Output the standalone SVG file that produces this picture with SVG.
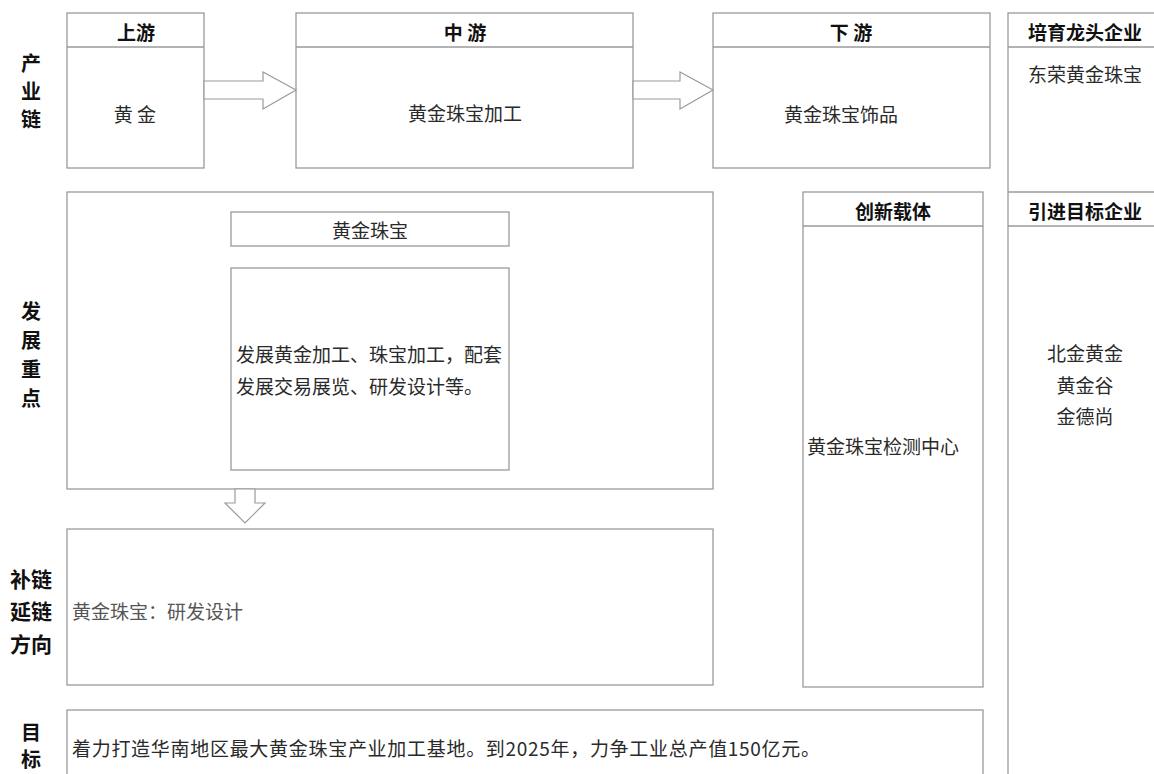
<svg xmlns="http://www.w3.org/2000/svg" width="1154" height="774" viewBox="0 0 1154 774">
<style>
.box{fill:#fff;stroke:#9a9a9a;stroke-width:1.3}
.ln{stroke:#9a9a9a;stroke-width:1.3;fill:none}
.arr{fill:#fff;stroke:#9a9a9a;stroke-width:1.2}
text{font-family:"Noto Sans CJK SC","Noto Sans",sans-serif;dominant-baseline:central;fill:#2a2a2a}
.lab{font-size:20px;font-weight:bold;text-anchor:middle;fill:#111}
.lab2{font-size:21px}
.hd{font-size:19px;font-weight:bold;text-anchor:middle;fill:#111}
.tx{font-size:19px}
.mid{text-anchor:middle}
.lt{fill:#555}
</style>
<rect width="1154" height="774" fill="#fff"/>
<g id="labels">
<text class="lab" x="31" y="62">产</text>
<text class="lab" x="31" y="90">业</text>
<text class="lab" x="31" y="118">链</text>
<text class="lab" x="31" y="310">发</text>
<text class="lab" x="31" y="339">展</text>
<text class="lab" x="31" y="368">重</text>
<text class="lab" x="31" y="397">点</text>
<text class="lab lab2" x="31" y="578">补链</text>
<text class="lab lab2" x="31" y="610">延链</text>
<text class="lab lab2" x="31" y="643">方向</text>
<text class="lab" x="31" y="731">目</text>
<text class="lab" x="31" y="758">标</text>
</g>
<g id="upstream">
<rect class="box" x="67" y="13" width="137" height="155"/>
<line class="ln" x1="67" y1="47" x2="204" y2="47"/>
<text class="hd" x="136" y="31">上游</text>
<text class="tx mid" x="135" y="113">黄 金</text>
</g>
<g id="midstream">
<rect class="box" x="296" y="13" width="337" height="155"/>
<line class="ln" x1="296" y1="47" x2="633" y2="47"/>
<text class="hd" x="465" y="31">中 游</text>
<text class="tx mid" x="465" y="112">黄金珠宝加工</text>
</g>
<g id="downstream">
<rect class="box" x="713" y="13" width="277" height="155"/>
<line class="ln" x1="713" y1="47" x2="990" y2="47"/>
<text class="hd" x="851" y="31">下 游</text>
<text class="tx mid" x="841" y="113">黄金珠宝饰品</text>
</g>
<g id="enterprises">
<rect class="box" x="1008" y="13" width="160" height="780"/>
<line class="ln" x1="1008" y1="47" x2="1154" y2="47"/>
<line class="ln" x1="1008" y1="192" x2="1154" y2="192"/>
<line class="ln" x1="1008" y1="226" x2="1154" y2="226"/>
<text class="hd" x="1085" y="31">培育龙头企业</text>
<text class="tx mid" x="1085" y="73">东荣黄金珠宝</text>
<text class="hd" x="1085" y="210">引进目标企业</text>
<text class="tx mid" x="1085" y="352">北金黄金</text>
<text class="tx mid" x="1085" y="384">黄金谷</text>
<text class="tx mid" x="1085" y="415">金德尚</text>
</g>
<g id="focus">
<rect class="box" x="67" y="192" width="646" height="297"/>
<rect class="box" x="231" y="212" width="278" height="34"/>
<text class="tx mid" x="370" y="229">黄金珠宝</text>
<rect class="box" x="231" y="268" width="278" height="202"/>
<text class="tx" x="236" y="353">发展黄金加工、珠宝加工，配套</text>
<text class="tx" x="236" y="385">发展交易展览、研发设计等。</text>
</g>
<g id="innovation">
<rect class="box" x="803" y="192" width="180" height="495"/>
<line class="ln" x1="803" y1="226" x2="983" y2="226"/>
<text class="hd" x="893" y="210">创新载体</text>
<text class="tx" x="807" y="445">黄金珠宝检测中心</text>
</g>
<g id="supplement">
<rect class="box" x="67" y="529" width="646" height="156"/>
<text class="tx lt" x="72" y="610">黄金珠宝：研发设计</text>
</g>
<g id="target">
<rect class="box" x="67" y="710" width="916" height="90"/>
<text class="tx" x="72" y="747" textLength="748" lengthAdjust="spacing">着力打造华南地区最大黄金珠宝产业加工基地。到2025年，力争工业总产值150亿元。</text>
</g>
<g id="connectors">
<polygon class="arr" points="204,81 263,81 263,72 296,90 263,109 263,99 204,99"/>
<polygon class="arr" points="633,81 680,81 680,72 713,90 680,109 680,99 633,99"/>
<polygon class="arr" points="235,489 255,489 255,503 265,503 245,523 225,503 235,503"/>
</g>
</svg>
